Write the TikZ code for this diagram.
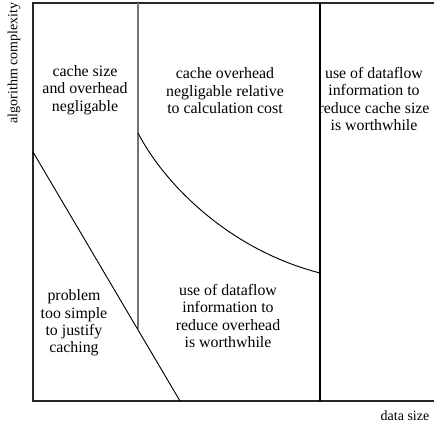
\documentclass[tikz,border=0pt]{standalone}
\usepackage{fontspec}
\setmainfont{Liberation Serif}
\begin{document}
\begin{tikzpicture}[x=0.75pt,y=-0.75pt,
  region/.style={align=center,font=\fontsize{11.9}{13.1}\selectfont,inner sep=0pt},
  axislabel/.style={font=\fontsize{10.5}{12}\selectfont,inner sep=0pt},
  frame/.style={line width=1.4pt,draw=black!85},
  thinsplit/.style={line width=1.1pt,draw=black!55},
  thicksplit/.style={line width=1.4pt,draw=black},
  boundary/.style={line width=0.7pt,draw=black}]
\useasboundingbox (0,0) rectangle (435,423);
% frame corners
\coordinate (tl) at (33,3);
\coordinate (tr) at (434,3);
\coordinate (bl) at (33,401);
\coordinate (br) at (434,401);
\draw[frame] (tr) -- (tl) -- (bl) -- (br);
% split lines
\coordinate (midtop) at (138,3);
\coordinate (midbot) at (138,329);
\draw[thinsplit] (midtop) -- (midbot);
\coordinate (righttop) at (320,3);
\coordinate (rightbot) at (320,401);
\draw[thicksplit] (righttop) -- (rightbot);
% diagonal
\coordinate (diagA) at (33,152);
\coordinate (diagB) at (180,401);
\draw[boundary] (diagA) -- (diagB);
% curve
\coordinate (curveA) at (138,133);
\coordinate (curveB) at (320,273);
\draw[boundary] (curveA) .. controls (165,185) and (230,250) .. (curveB);
% region texts
\node[region] (r1) at (85,90) {cache size\\and overhead\\negligable};
\node[region] (r2) at (225,91) {cache overhead\\negligable relative\\to calculation cost};
\node[region] (r3) at (374,99) {use of dataflow\\information to\\reduce cache size\\is worthwhile};
\node[region] (r4) at (74,323) {problem\\too simple\\to justify\\caching};
\node[region] (r5) at (228,316) {use of dataflow\\information to\\reduce overhead\\is worthwhile};
% axis labels
\node[axislabel,rotate=90] (ylab) at (14,63) {algorithm complexity};
\node[axislabel] (xlab) at (405,416) {data size};
\end{tikzpicture}
\end{document}
